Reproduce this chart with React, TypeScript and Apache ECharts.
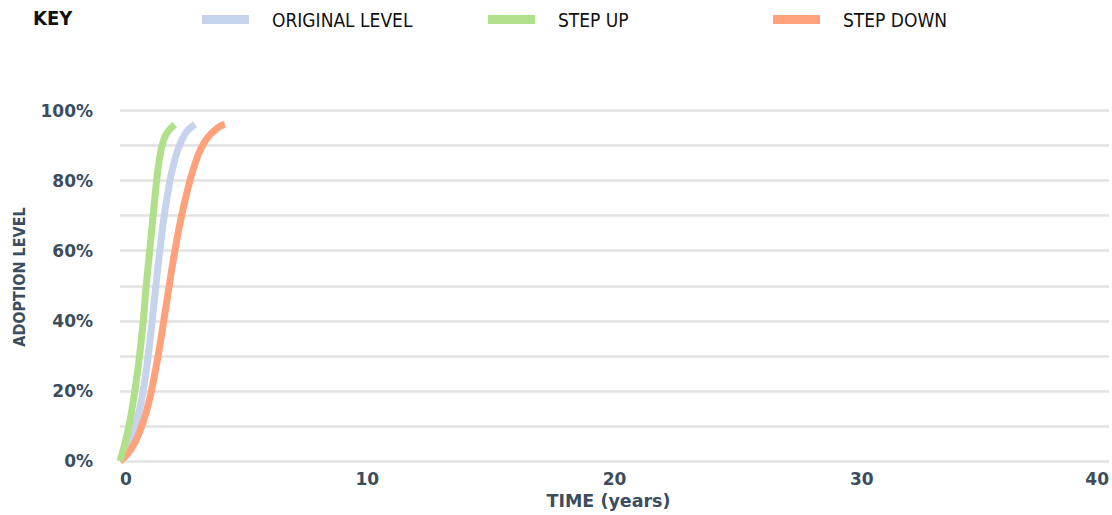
import React, { useEffect, useRef } from "react";
import * as echarts from "echarts";

const seriesNames = ["ORIGINAL LEVEL", "STEP UP", "STEP DOWN"];
const seriesColors = ["#c6d3ec", "#b0e08a", "#ffa27c"];

// years (x) and adoption level in % (y)
const originalX = [0, 0.18, 0.38, 0.62, 0.8, 0.94, 1.14, 1.3, 1.45, 1.61, 1.79, 2.02, 2.18, 2.35, 2.53, 2.7, 2.84, 3.04];
const originalY = [0, 2, 5, 10, 15, 20, 30, 40, 50, 60, 70, 80, 85, 89, 92, 94, 95, 96];
const stepUpX = [0, 0.08, 0.2, 0.36, 0.49, 0.6, 0.79, 0.94, 1.06, 1.2, 1.34, 1.48, 1.55, 1.64, 1.74, 1.85, 2.0, 2.21];
const stepUpY = [0, 2, 5, 10, 15, 20, 30, 40, 50, 60, 70, 80, 84, 88, 91, 93, 94.5, 96];
const stepDownX = [0, 0.3, 0.58, 0.88, 1.1, 1.27, 1.54, 1.77, 1.99, 2.22, 2.49, 2.83, 3.0, 3.2, 3.42, 3.63, 3.86, 4.05, 4.24];
const stepDownY = [0, 2, 5, 10, 15, 20, 30, 40, 50, 60, 70, 80, 84, 88, 91, 93, 94.5, 95.5, 96];

const xMin = 0;
const xMax = 40;
const xInterval = 10;
const yMin = 0;
const yMax = 100;
const yInterval = 10;

const NARROW = "'Liberation Sans Narrow', 'DejaVu Sans Condensed', 'Open Sans', sans-serif";
const WIDE = "'DejaVu Sans', 'Open Sans', sans-serif";
const TEXT_COLOR = "#3b4d5f";

function zip(xs: number[], ys: number[]) {
  return xs.map((x, i) => [x, ys[i]]);
}

export default function App() {
  const ref = useRef<HTMLDivElement>(null);
  useEffect(() => {
    if (!ref.current) return;
    const chart = echarts.init(ref.current, undefined, { renderer: "svg" });
    const datasets = [zip(originalX, originalY), zip(stepUpX, stepUpY), zip(stepDownX, stepDownY)];
    const order = [0, 2, 1];
    const legendLefts = [202, 488, 773];
    chart.setOption({
      animation: false,
      textStyle: { fontFamily: NARROW },
      grid: { left: 120, top: 110.5, width: 992, height: 352.5 },
      legend: seriesNames.map((n, i) => ({
        data: [{ name: n, icon: "rect", itemStyle: { color: seriesColors[i] } }],
        left: legendLefts[i],
        top: 10,
        itemWidth: 47,
        itemHeight: 9,
        selectedMode: false,
        padding: 0,
        textStyle: {
          color: "#111",
          fontSize: 19,
          fontFamily: NARROW,
          padding: [0, 0, 0, 18],
        },
      })),
      xAxis: {
        type: "value",
        min: xMin,
        max: xMax,
        interval: xInterval,
        name: "TIME (years)",
        nameLocation: "middle",
        nameGap: 28,
        nameTextStyle: {
          color: TEXT_COLOR,
          fontSize: 17.5,
          fontFamily: WIDE,
          fontWeight: "bold",
          padding: [0, 12, 0, 0],
        },
        axisLine: { show: false },
        axisTick: { show: false },
        splitLine: { show: false },
        axisLabel: {
          color: TEXT_COLOR,
          fontSize: 17,
          fontWeight: "bold",
          margin: 9,
          alignMinLabel: "left",
          alignMaxLabel: "right",
          fontFamily: WIDE,
        },
      },
      yAxis: {
        type: "value",
        min: yMin,
        max: yMax,
        interval: yInterval,
        axisLine: { show: false },
        axisTick: { show: false },
        splitLine: { lineStyle: { color: "#e2e2e2", width: 2.5 } },
        axisLabel: {
          color: TEXT_COLOR,
          fontSize: 17,
          fontWeight: "bold",
          margin: 27,
          fontFamily: WIDE,
          formatter: (v: number) => (v % 20 === 0 ? `${v}%` : ""),
        },
      },
      graphic: [
        {
          type: "text",
          left: 33,
          top: 8,
          style: { text: "KEY", fill: "#111", font: `bold 20px ${NARROW}` },
        },
        {
          type: "text",
          x: 19,
          y: 277,
          rotation: Math.PI / 2,
          style: {
            text: "ADOPTION LEVEL",
            fill: TEXT_COLOR,
            font: `bold 16px ${NARROW}`,
            align: "center",
            verticalAlign: "middle",
          },
        },
      ],
      series: order.map((i) => ({
        name: seriesNames[i],
        type: "line",
        data: datasets[i],
        smooth: 0.5,
        showSymbol: false,
        lineStyle: { color: seriesColors[i], width: 7 },
        itemStyle: { color: seriesColors[i] },
        z: 2,
      })),
    });
    return () => chart.dispose();
  }, []);
  return (
    <div
      ref={ref}
      style={{ position: "absolute", left: 0, top: 0, width: 1112, height: 515 }}
    />
  );
}
